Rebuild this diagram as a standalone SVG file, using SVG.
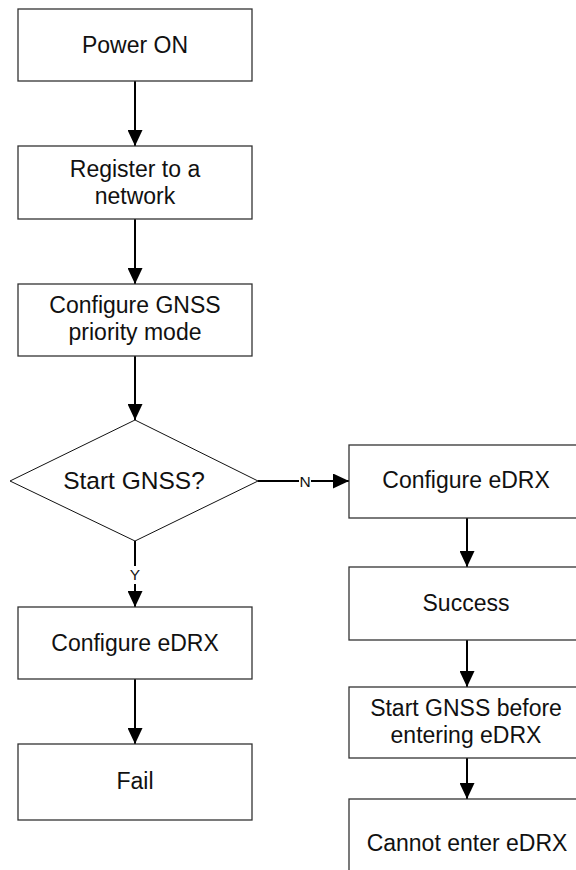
<svg xmlns="http://www.w3.org/2000/svg" width="576" height="870" viewBox="0 0 576 870">
<style>
.box{fill:#fff;stroke:#333;stroke-width:1.3}
.dia{fill:#fff;stroke:#111;stroke-width:1}
.t{font-family:"Liberation Sans",Arial,sans-serif;font-size:23px;fill:#111;text-anchor:middle}
.td{font-size:24.5px}
.lbl{font-family:"Liberation Sans",Arial,sans-serif;font-size:15.5px;fill:#111;text-anchor:middle}
.ln{stroke:#000;stroke-width:2;fill:none}
</style>
<defs>
<marker id="ah" viewBox="0 0 16 15" refX="16" refY="7.5" markerWidth="16" markerHeight="15" markerUnits="userSpaceOnUse" orient="auto">
<path d="M0,0 L16,7.5 L0,15 Z" fill="#000"/>
</marker>
</defs>
<rect width="576" height="870" fill="#fff"/>
<g id="connectors">
<line class="ln" x1="135" y1="81" x2="135" y2="146" marker-end="url(#ah)"/>
<line class="ln" x1="135" y1="219" x2="135" y2="284" marker-end="url(#ah)"/>
<line class="ln" x1="135" y1="356" x2="135" y2="420" marker-end="url(#ah)"/>
<line class="ln" x1="135" y1="541" x2="135" y2="607" marker-end="url(#ah)"/>
<rect x="128" y="566" width="14" height="18" fill="#fff"/>
<text class="lbl" x="135" y="580">Y</text>
<line class="ln" x1="135" y1="679" x2="135" y2="744" marker-end="url(#ah)"/>
<line class="ln" x1="258" y1="481" x2="349" y2="481" marker-end="url(#ah)"/>
<rect x="299" y="472" width="12" height="18" fill="#fff"/>
<text class="lbl" x="305" y="487">N</text>
<line class="ln" x1="467" y1="518" x2="467" y2="567" marker-end="url(#ah)"/>
<line class="ln" x1="467" y1="640" x2="467" y2="687" marker-end="url(#ah)"/>
<line class="ln" x1="467" y1="758" x2="467" y2="799" marker-end="url(#ah)"/>
</g>
<g id="power_on">
<rect class="box" x="18" y="9" width="234" height="72"/>
<text class="t" x="135" y="53">Power ON</text>
</g>
<g id="register">
<rect class="box" x="18" y="146" width="234" height="73"/>
<text class="t" x="135" y="177">Register to a</text>
<text class="t" x="135" y="204">network</text>
</g>
<g id="configure_gnss">
<rect class="box" x="18" y="284" width="234" height="72"/>
<text class="t" x="135" y="313">Configure GNSS</text>
<text class="t" x="135" y="340">priority mode</text>
</g>
<g id="start_gnss_decision">
<polygon class="dia" points="135,420 258,481 135,541 10,481"/>
<text class="t td" x="134" y="489">Start GNSS?</text>
</g>
<g id="configure_edrx_left">
<rect class="box" x="18" y="607" width="234" height="72"/>
<text class="t" x="135" y="651">Configure eDRX</text>
</g>
<g id="fail">
<rect class="box" x="18" y="744" width="234" height="76"/>
<text class="t" x="135" y="789">Fail</text>
</g>
<g id="configure_edrx_right">
<rect class="box" x="349" y="445" width="234" height="73"/>
<text class="t" x="466" y="488">Configure eDRX</text>
</g>
<g id="success">
<rect class="box" x="349" y="567" width="234" height="73"/>
<text class="t" x="466" y="611">Success</text>
</g>
<g id="start_gnss_before">
<rect class="box" x="349" y="687" width="234" height="71"/>
<text class="t" x="466" y="716">Start GNSS before</text>
<text class="t" x="466" y="743">entering eDRX</text>
</g>
<g id="cannot_enter">
<rect class="box" x="349" y="799" width="234" height="90"/>
<text class="t" x="467" y="851">Cannot enter eDRX</text>
</g>
</svg>
